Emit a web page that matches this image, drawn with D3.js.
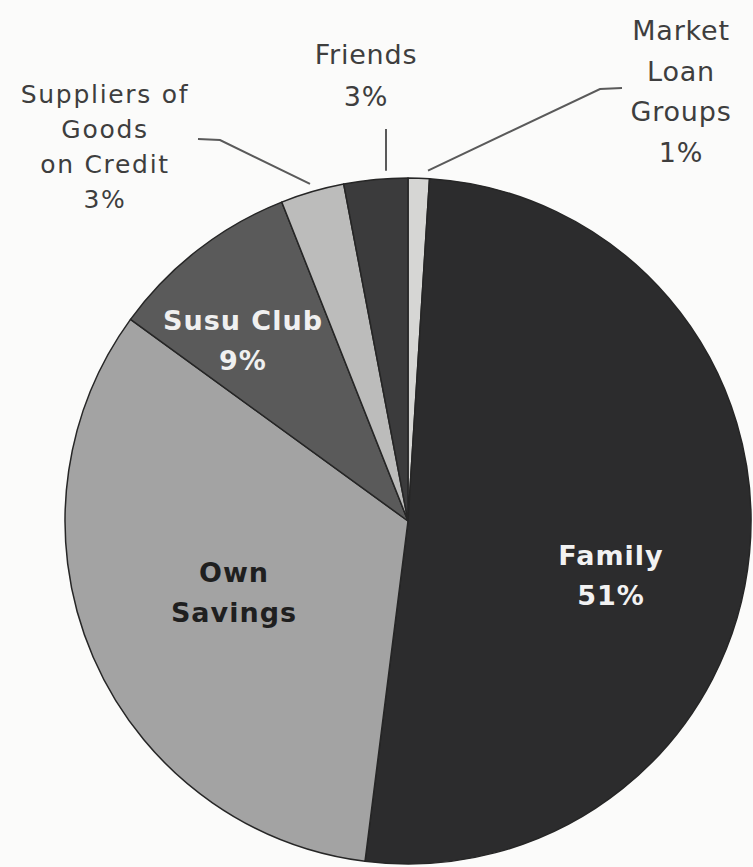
<!DOCTYPE html>
<html>
<head>
<meta charset="utf-8">
<script src="https://cdn.jsdelivr.net/npm/d3@7"></script>
<style>
  html, body { margin: 0; padding: 0; background: #fbfbfa; }
  svg { display: block; }
  text { font-family: "DejaVu Sans", Verdana, sans-serif; }
</style>
</head>
<body>
<svg id="chart" width="753" height="867"></svg>
<script>
// Sources of start-up funding (share of respondents, %)
const categories = ["Market Loan Groups", "Family", "Own Savings", "Susu Club", "Suppliers of Goods on Credit", "Friends"];
const shares = [1, 51, 33, 9, 3, 3];
const fills = ["#d6d6d4", "#2c2c2d", "#a3a3a3", "#5a5a5a", "#bcbcbb", "#3b3b3c"];

// Label lines for each slice
const labelLines = {
  "Market Loan Groups": ["Market", "Loan", "Groups", "1%"],
  "Family": ["Family", "51%"],
  "Own Savings": ["Own", "Savings"],
  "Susu Club": ["Susu Club", "9%"],
  "Suppliers of Goods on Credit": ["Suppliers of", "Goods", "on Credit", "3%"],
  "Friends": ["Friends", "3%"]
};

const data = categories.map((c, i) => ({ name: c, value: shares[i], fill: fills[i] }));

const svg = d3.select("#chart");
const cx = 408, cy = 521, R = 343;

const pie = d3.pie().value(d => d.value).sort(null);
const arc = d3.arc().innerRadius(0).outerRadius(R);
const arcs = pie(data);

const g = svg.append("g").attr("transform", `translate(${cx},${cy})`);

g.selectAll("path.slice")
  .data(arcs)
  .join("path")
  .attr("class", "slice")
  .attr("d", arc)
  .attr("fill", d => d.data.fill)
  .attr("stroke", "#262626")
  .attr("stroke-width", 1.5)
  .attr("stroke-linejoin", "round");

// Bold labels drawn inside the larger slices
const inside = {
  "Family": { pos: [611, 565], color: "#f2f2f2" },
  "Own Savings": { pos: [234, 582], color: "#1f1f1f" },
  "Susu Club": { pos: [243, 330], color: "#f0f0f0" }
};

arcs.filter(d => inside[d.data.name]).forEach(d => {
  const cfg = inside[d.data.name];
  const [x, y] = cfg.pos;
  const t = svg.append("text")
    .attr("text-anchor", "middle")
    .attr("font-weight", "bold")
    .attr("font-size", 27)
    .attr("letter-spacing", 1)
    .attr("fill", cfg.color);
  labelLines[d.data.name].forEach((line, i) => {
    t.append("tspan").attr("x", x).attr("y", y + i * 40).text(line);
  });
});

// Outside labels with leader lines running to the slice rims
const outside = {
  "Suppliers of Goods on Credit": { pos: [105, 103], size: 25, lh: 35, ls: 1.7,
    leader: [[198, 139], [220, 140]], endX: 310 },
  "Friends": { pos: [366, 64], size: 27, lh: 42, ls: 0.8,
    leader: [[386, 129]], endX: 386 },
  "Market Loan Groups": { pos: [681, 40], size: 27, lh: 40.7, ls: 0.8,
    leader: [[622, 88], [600, 89]], endX: 428 }
};

arcs.filter(d => outside[d.data.name]).forEach(d => {
  const cfg = outside[d.data.name];
  const t = svg.append("text")
    .attr("text-anchor", "middle")
    .attr("font-size", cfg.size)
    .attr("letter-spacing", cfg.ls)
    .attr("fill", "#3e3e3e");
  labelLines[d.data.name].forEach((line, i) => {
    t.append("tspan").attr("x", cfg.pos[0]).attr("y", cfg.pos[1] + i * cfg.lh).text(line);
  });
  // leader stops just above the rim
  const rEnd = R + 8;
  const dx = cfg.endX - cx;
  const end = [cfg.endX, cy - Math.sqrt(rEnd * rEnd - dx * dx)];
  svg.append("path")
    .attr("d", d3.line()(cfg.leader.concat([end])))
    .attr("fill", "none")
    .attr("stroke", "#5a5a5a")
    .attr("stroke-width", 2);
});
</script>
</body>
</html>
